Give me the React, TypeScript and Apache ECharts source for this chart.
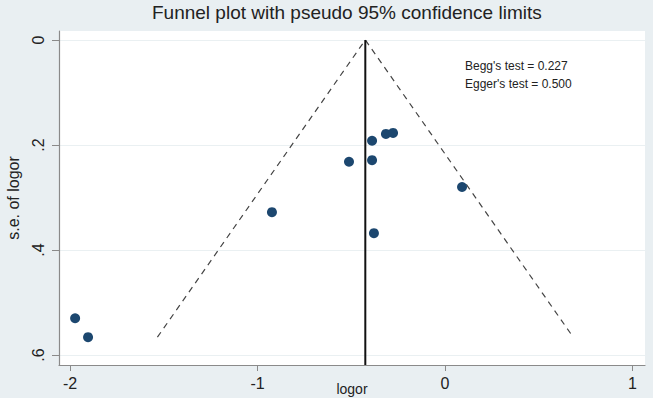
import React, { useEffect, useRef } from "react";
import * as echarts from "echarts";

// Study estimates (log odds ratio) and their standard errors
const logor = [-1.973, -1.904, -0.923, -0.512, -0.389, -0.389, -0.379, -0.315, -0.277, 0.091];
const seLogor = [0.53, 0.566, 0.328, 0.232, 0.192, 0.229, 0.368, 0.179, 0.177, 0.28];

// Pooled estimate line and pseudo 95% confidence limits
const pooled = -0.425;
const funnelX = [-1.534, -0.425, 0.684];
const funnelY = [0.566, 0, 0.566];
const pooledLineY = [0, 0.619];

// Axis ticks
const xTicks = [-2, -1, 0, 1];
const yTicks = [0, 0.2, 0.4, 0.6];

const annotations = ["Begg's test = 0.227", "Egger's test = 0.500"];
const titleText = "Funnel plot with pseudo 95% confidence limits";
const xName = "logor";
const yName = "s.e. of logor";

export default function App() {
  const ref = useRef<HTMLDivElement>(null);
  useEffect(() => {
    if (!ref.current) return;
    const chart = echarts.init(ref.current, null, { renderer: "svg" });
    const font = "Liberation Sans, Arial, sans-serif";
    chart.setOption({
      animation: false,
      backgroundColor: "#e9eff2",
      textStyle: { fontFamily: font },
      grid: {
        left: 59,
        right: 8,
        top: 31,
        bottom: 33,
        containLabel: false,
        outerBoundsMode: "none",
        show: true,
        backgroundColor: "#ffffff",
        borderWidth: 0,
      },
      xAxis: {
        type: "value",
        min: -2.059,
        max: 1.067,
        axisLine: { show: true, onZero: false, lineStyle: { color: "#8a8a8a", width: 1.2 } },
        axisTick: { show: true, length: 6, customValues: xTicks, lineStyle: { color: "#8a8a8a" } },
        axisLabel: {
          customValues: xTicks,
          margin: 10,
          fontSize: 16,
          color: "#222",
          fontFamily: font,
        },
        splitLine: { show: false },
      },
      yAxis: {
        type: "value",
        inverse: true,
        min: -0.017,
        max: 0.619,
        name: yName,
        nameLocation: "middle",
        nameGap: 38,
        nameTextStyle: { fontSize: 16, color: "#222", fontFamily: font },
        axisLine: { show: true, onZero: false, lineStyle: { color: "#8a8a8a", width: 1.2 } },
        axisTick: { show: true, length: 7, customValues: yTicks, lineStyle: { color: "#8a8a8a" } },
        axisLabel: {
          customValues: yTicks,
          rotate: 90,
          margin: 13,
          fontSize: 16,
          color: "#222",
          fontFamily: font,
          formatter: (v: number) => (v === 0 ? "0" : String(v).replace(/^0/, "")),
        },
        splitLine: { show: true, lineStyle: { color: "#eaf0f2", width: 1 } },
      },
      graphic: [
        {
          type: "text",
          left: 350 - 198,
          top: 3,
          style: { text: titleText, fontSize: 19, fill: "#222", fontFamily: font },
        },
        {
          type: "text",
          x: 352,
          y: 382,
          style: { text: xName, fontSize: 14, fill: "#222", fontFamily: font, textAlign: "center", textVerticalAlign: "top" },
        },
        {
          type: "text",
          left: 465,
          top: 57,
          style: {
            text: annotations.join("\n"),
            fontSize: 12,
            lineHeight: 18,
            fill: "#222",
            fontFamily: font,
          },
        },
      ],
      series: [
        {
          type: "line",
          data: funnelX.map((x, i) => [x, funnelY[i]]),
          symbol: "none",
          lineStyle: { color: "#444", width: 1.2, type: [6, 5] },
          silent: true,
          z: 2,
        },
        {
          type: "line",
          data: pooledLineY.map((y) => [pooled, y]),
          symbol: "none",
          lineStyle: { color: "#111", width: 2 },
          silent: true,
          z: 2,
        },
        {
          type: "scatter",
          data: logor.map((x, i) => [x, seLogor[i]]),
          symbolSize: 10,
          itemStyle: { color: "#1c476f", opacity: 1 },
          z: 3,
        },
      ],
    });
    return () => chart.dispose();
  }, []);
  return <div ref={ref} style={{ width: 653, height: 398, position: "absolute", left: 0, top: 0 }} />;
}
